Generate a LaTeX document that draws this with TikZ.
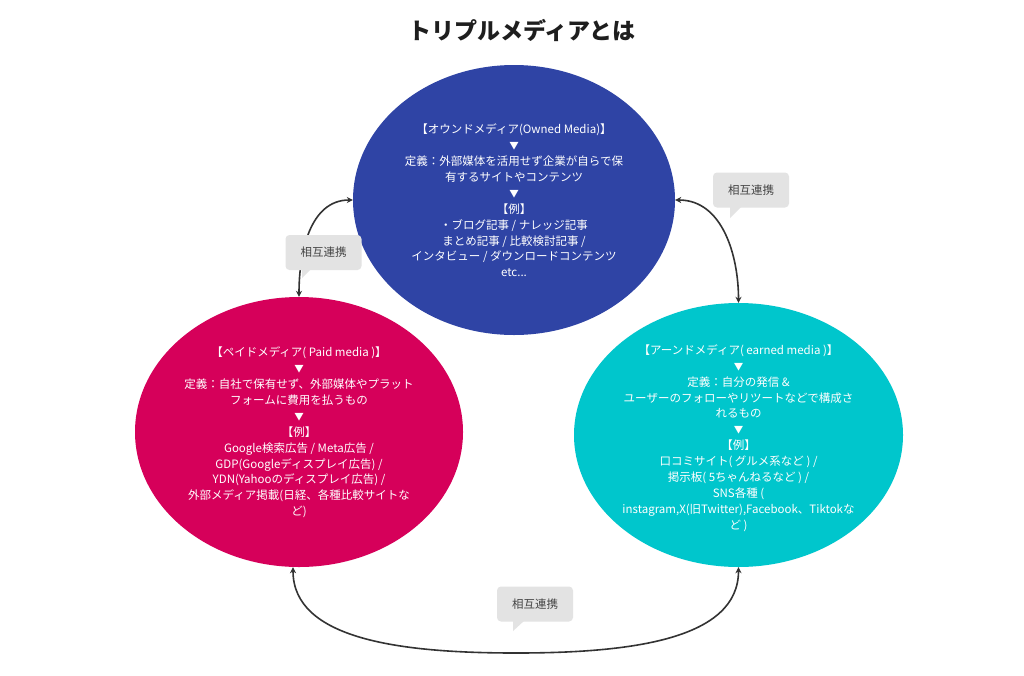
\documentclass[tikz,border=0pt]{standalone}
\usepackage{fontspec}
\setmainfont{Noto Sans CJK JP}
\usetikzlibrary{shapes.geometric,arrows.meta}
\definecolor{ownedblue}{HTML}{2F44A5}
\definecolor{paidpink}{HTML}{D6005A}
\definecolor{earnedteal}{HTML}{00C6CC}
\definecolor{calloutgray}{HTML}{E3E3E3}
\definecolor{calloutText}{HTML}{444444}
\definecolor{linkdark}{HTML}{333333}
\definecolor{titleblack}{HTML}{1E1E1E}
\newcommand{\downmark}{{\fontsize{9.5}{15.9}\selectfont ▼}}
\tikzset{
  mediablob/.style={ellipse, inner sep=0pt, draw=none},
  mediatext/.style={text=white, align=center, inner sep=0pt, font=\fontsize{11.5}{15.9}\selectfont},
  linkarrow/.style={draw=linkdark, line width=1.6pt, {Stealth[length=6pt,width=6pt]}-{Stealth[length=6pt,width=6pt]}},
  calloutbox/.style={fill=calloutgray, rounded corners=4pt, minimum width=76pt, minimum height=35pt, inner sep=0pt, text=calloutText, font=\fontsize{11.5}{14}\selectfont},
  callouttail/.style={fill=calloutgray, draw=none}
}
\begin{document}
\begin{tikzpicture}[x=1pt,y=-1pt]
\useasboundingbox (0,0) rectangle (1024,675);
\fill[white] (0,0) rectangle (1024,675);

% title
\node[font=\fontsize{23}{28}\selectfont\bfseries, text=titleblack] (title) at (522,30) {トリプルメディアとは};

% ellipses
\node[mediablob, fill=ownedblue, minimum width=322pt, minimum height=270pt] (owned) at (514,200) {};
\node[mediablob, fill=paidpink, minimum width=328pt, minimum height=270pt] (paid) at (299,432) {};
\node[mediablob, fill=earnedteal, minimum width=329pt, minimum height=264pt] (earned) at (738.5,435) {};

% texts
\node[mediatext] (ownedtext) at (514,200.5) {【オウンドメディア(Owned Media)】\\\downmark\\定義：外部媒体を活用せず企業が自らで保\\有するサイトやコンテンツ\\\downmark\\【例】\\・ブログ記事 / ナレッジ記事\\まとめ記事 / 比較検討記事 /\\インタビュー / ダウンロードコンテンツ\\etc...};
\node[mediatext] (paidtext) at (299,432.5) {【ペイドメディア( Paid media )】\\\downmark\\定義：自社で保有せず、外部媒体やプラット\\フォームに費用を払うもの\\\downmark\\【例】\\Google検索広告 / Meta広告 /\\GDP(Googleディスプレイ広告) /\\YDN(Yahooのディスプレイ広告) /\\外部メディア掲載(日経、各種比較サイトな\\ど)};
\node[mediatext] (earnedtext) at (738.5,438) {【アーンドメディア( earned media )】\\\downmark\\定義：自分の発信 \&\\ユーザーのフォローやリツートなどで構成さ\\れるもの\\\downmark\\【例】\\口コミサイト( グルメ系など ) /\\掲示板( 5ちゃんねるなど ) /\\SNS各種 (\\instagram,X(旧Twitter),Facebook、Tiktokな\\ど )};

% connectors
\draw[linkarrow] (paid.north) to[out=90,in=180] (owned.west);
\draw[linkarrow] (owned.east) to[out=0,in=90] (earned.north);
\coordinate (bottommid) at (516,653);
\draw[linkarrow] ([xshift=-6pt]paid.south) .. controls ([xshift=-6pt,yshift=-72pt]paid.south) and (400,653) .. (bottommid)
  .. controls (632,653) and ([yshift=-72pt]earned.south) .. (earned.south);

% callouts
\node[calloutbox] (callL) at (323.5,252.5) {相互連携};
\fill[callouttail] (302,268) -- (302,278) -- (312,268) -- cycle;
\node[calloutbox] (callR) at (751,190) {相互連携};
\fill[callouttail] (730,206) -- (730,218) -- (742,206) -- cycle;
\node[calloutbox] (callB) at (535,604) {相互連携};
\fill[callouttail] (513,620) -- (513,631) -- (525,620) -- cycle;
\end{tikzpicture}
\end{document}
